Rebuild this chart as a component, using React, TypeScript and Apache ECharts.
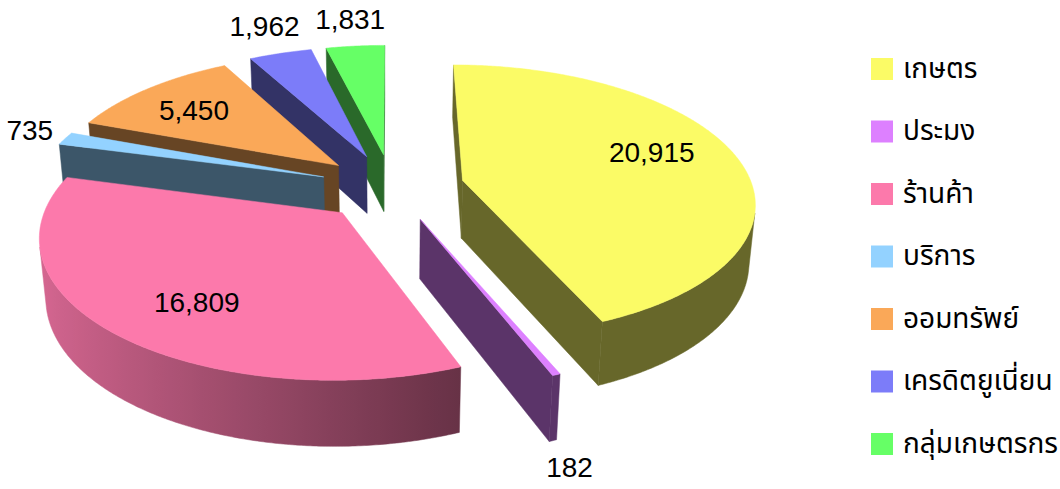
import React, { useEffect, useRef } from 'react';
import * as echarts from 'echarts';

const categories = ['เกษตร', 'ประมง', 'ร้านค้า', 'บริการ', 'ออมทรัพย์', 'เครดิตยูเนี่ยน', 'กลุ่มเกษตรกร'];
const values = [20915, 182, 16809, 735, 5450, 1962, 1831];
const colors = ['#FBFB66', '#DD80FF', '#FC79AB', '#93D2FF', '#FAA858', '#7C7CF9', '#66FF66'];

// 3D view settings
const CX = 392, CY = 187, FOCAL = 1740, DIST = 6, ELEV = 27.6, RADIUS = 1, THICK = 0.23, EXPLODE = 0.25;
const DEG = Math.PI / 180;
const SIN_E = Math.sin(ELEV * DEG), COS_E = Math.cos(ELEV * DEG);
const CAM_Z = DIST * COS_E;

const NUM_FONT = "'Liberation Sans', Arial, sans-serif";
const NUM_SIZE = 28;
const THAI_FONT = "'Noto Sans Thai', 'Noto Sans', sans-serif";
const THAI_SIZE = 28;

function proj(x: number, h: number, z: number): number[] {
  const depth = DIST - h * SIN_E - z * COS_E;
  return [CX + (FOCAL * x) / depth, CY + (FOCAL * (z * SIN_E - h * COS_E)) / depth];
}
function unit(t: number): number[] {
  return [Math.sin(t * DEG), -Math.cos(t * DEG)];
}
function shade(hex: string, k: number): string {
  const n = parseInt(hex.slice(1), 16);
  const r = Math.round(((n >> 16) & 255) * k);
  const g = Math.round(((n >> 8) & 255) * k);
  const b = Math.round((n & 255) * k);
  return `rgb(${r},${g},${b})`;
}
function wallFactor(t: number): number {
  const s = -Math.sin(t * DEG);
  const q = Math.min(1, Math.max(0, (s + 0.36) / 1.36));
  return 0.41 + 0.45 * q;
}

const total = values.reduce((a, b) => a + b, 0);
const slices = (() => {
  let acc = 0;
  return values.map((v) => {
    const start = (acc / total) * 360;
    acc += v;
    const end = (acc / total) * 360;
    const mid = (start + end) / 2;
    const [ux, uz] = unit(mid);
    return { start, end, mid, frac: v / total, ax: ux * EXPLODE, az: uz * EXPLODE };
  });
})();
const order = slices
  .map((s, i) => ({ i, d: s.az + 0.5 * unit(s.mid)[1] }))
  .sort((a, b) => a.d - b.d)
  .map((o) => o.i);
const zOf = (i: number) => 2 + order.indexOf(i);

let measureCtx: CanvasRenderingContext2D | null = null;
function textWidth(t: string): number {
  if (!measureCtx) measureCtx = document.createElement('canvas').getContext('2d');
  if (!measureCtx) return t.length * NUM_SIZE * 0.5;
  measureCtx.font = `${NUM_SIZE}px ${NUM_FONT}`;
  return measureCtx.measureText(t).width;
}

function makeRender(i: number) {
  return (_params: any, api: any) => {
    const s = slices[i];
    const base = colors[i];
    const value = api.value(0) as number;
    const { ax, az } = s;
    const rimW = (t: number) => {
      const [ux, uz] = unit(t);
      return [ax + ux * RADIUS, az + uz * RADIUS];
    };
    const steps = Math.max(2, Math.ceil((s.end - s.start) / 0.5));
    const angles: number[] = [];
    for (let k = 0; k <= steps; k++) angles.push(s.start + ((s.end - s.start) * k) / steps);

    const children: any[] = [];
    const apexTop = proj(ax, 0, az);
    const apexBot = proj(ax, -THICK, az);
    const side = shade(base, 0.41);

    // radial (cut) faces
    const radial = (t: number, nx: number, nz: number) => {
      if (nx * (0 - ax) + nz * (CAM_Z - az) <= 0) return;
      const [rx, rz] = rimW(t);
      children.push({
        type: 'polygon',
        shape: { points: [apexTop, proj(rx, 0, rz), proj(rx, -THICK, rz), apexBot] },
        style: { fill: side, stroke: side, lineWidth: 0.5 },
        silent: true,
      });
    };
    radial(s.start, -Math.cos(s.start * DEG), -Math.sin(s.start * DEG));
    radial(s.end, Math.cos(s.end * DEG), Math.sin(s.end * DEG));

    // outer wall (visible part only)
    const vis = angles.filter((t) => {
      const [nx, nz] = unit(t);
      const [px, pz] = rimW(t);
      return nx * (0 - px) + nz * (CAM_Z - pz) > 0;
    });
    if (vis.length >= 2) {
      const topP = vis.map((t) => {
        const [px, pz] = rimW(t);
        return proj(px, 0, pz);
      });
      const botP = vis.map((t) => {
        const [px, pz] = rimW(t);
        return proj(px, -THICK, pz);
      });
      const xs = topP.map((p) => p[0]);
      const xmin = Math.min(...xs), xmax = Math.max(...xs);
      let fill: any = shade(base, wallFactor(vis[0]));
      if (xmax - xmin > 2) {
        const stops = vis
          .filter((_, k) => k % 4 === 0 || k === vis.length - 1)
          .map((t) => {
            const [px, pz] = rimW(t);
            const sx = proj(px, 0, pz)[0];
            return { offset: (sx - xmin) / (xmax - xmin), color: shade(base, wallFactor(t)) };
          })
          .sort((a, b) => a.offset - b.offset);
        fill = new echarts.graphic.LinearGradient(xmin, 0, xmax, 0, stops, true);
      }
      children.push({
        type: 'polygon',
        shape: { points: [...topP, ...botP.reverse()] },
        style: { fill, stroke: fill, lineWidth: 0.5 },
        silent: true,
      });
    }

    // top face
    const topPts = [apexTop, ...angles.map((t) => {
      const [px, pz] = rimW(t);
      return proj(px, 0, pz);
    })];
    children.push({
      type: 'polygon',
      shape: { points: topPts },
      style: { fill: base, stroke: base, lineWidth: 0.5 },
      silent: true,
    });

    // data label
    const text = value.toLocaleString('en-US');
    let lx: number, ly: number;
    if (s.frac > 0.08) {
      const la = s.mid - 0.04 * (s.end - s.start);
      const [ux, uz] = unit(la);
      [lx, ly] = proj(ax + ux * 0.72, 0, az + uz * 0.72);
    } else {
      const [px, pz] = rimW(s.mid);
      const rt = proj(px, 0, pz);
      const rb = proj(px, -THICK, pz);
      let dx = rt[0] - apexTop[0], dy = rt[1] - apexTop[1];
      const len = Math.hypot(dx, dy) || 1;
      const [u2x, u2z] = unit(s.mid);
      dx = (dx / len + u2x) / 2;
      dy = (dy / len + u2z) / 2;
      const l2 = Math.hypot(dx, dy) || 1;
      dx /= l2; dy /= l2;
      const anchor = dy > 0.3 ? rb : rt;
      const w = textWidth(text);
      const hx = w / 2 + 12, hy = 27;
      const tt = Math.min(Math.abs(dx) > 1e-6 ? hx / Math.abs(dx) : 1e9, Math.abs(dy) > 1e-6 ? hy / Math.abs(dy) : 1e9);
      lx = anchor[0] + dx * tt;
      ly = anchor[1] + dy * tt;
    }
    children.push({
      type: 'text',
      silent: true,
      style: {
        text,
        x: lx,
        y: ly,
        fill: '#000000',
        fontSize: NUM_SIZE,
        fontFamily: NUM_FONT,
        align: 'center',
        verticalAlign: 'middle',
      },
    });

    return { type: 'group', children };
  };
}

export default function App() {
  const ref = useRef<HTMLDivElement>(null);
  useEffect(() => {
    if (!ref.current) return;
    const chart = echarts.init(ref.current, null, { renderer: 'svg' });
    chart.setOption({
      animation: false,
      backgroundColor: '#ffffff',
      legend: {
        orient: 'vertical',
        left: 866,
        top: 50,
        itemWidth: 22,
        itemHeight: 22,
        itemGap: 34.5,
        icon: 'rect',
        selectedMode: false,
        data: categories,
        textStyle: {
          fontSize: THAI_SIZE,
          fontFamily: THAI_FONT,
          color: '#000000',
          padding: [0, 0, 0, 5],
        },
      },
      series: categories.map((name, i) => ({
        type: 'custom',
        name,
        coordinateSystem: 'none',
        data: [[values[i]]],
        z: zOf(i),
        silent: true,
        itemStyle: { color: colors[i] },
        renderItem: makeRender(i),
      })),
    });
    return () => chart.dispose();
  }, []);
  return (
    <div
      ref={ref}
      style={{ position: 'fixed', left: 0, top: 0, width: 1060, height: 489, background: '#fff' }}
    />
  );
}
